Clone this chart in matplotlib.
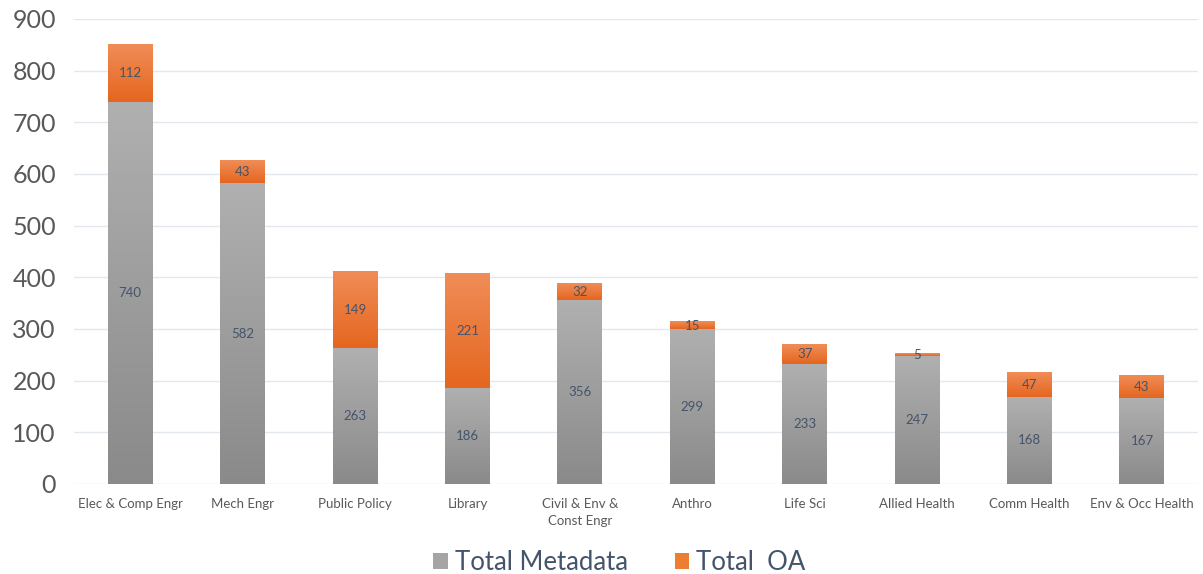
import numpy as np
import matplotlib
matplotlib.use("Agg")
import matplotlib.pyplot as plt
from matplotlib.colors import LinearSegmentedColormap

plt.rcParams['font.family'] = ['Lato', 'DejaVu Sans']

# 数据
categories = ["Elec & Comp Engr", "Mech Engr", "Public Policy", "Library",
              "Civil & Env &\nConst Engr", "Anthro", "Life Sci", "Allied Health",
              "Comm Health", "Env & Occ Health"]
total_metadata = [740, 582, 263, 186, 356, 299, 233, 247, 168, 167]
total_oa = [112, 43, 149, 221, 32, 15, 37, 5, 47, 43]
yticks = [0, 100, 200, 300, 400, 500, 600, 700, 800, 900]

gray_cmap = LinearSegmentedColormap.from_list("g", ["#8a8a8a", "#b0b0b0"])
orange_cmap = LinearSegmentedColormap.from_list("o", ["#e5661f", "#f08d57"])
grad = np.linspace(0, 1, 256).reshape(-1, 1)

fig = plt.figure(figsize=(12.03, 5.74), dpi=100)
ax = fig.add_axes([0.0615, 0.157, 0.9345, 0.81])

x = np.arange(len(categories))
b1 = ax.bar(x, total_metadata, width=0.4, color="#a5a5a5", label="Total Metadata", zorder=2)
b2 = ax.bar(x, total_oa, width=0.4, bottom=total_metadata, color="#ed7d31",
            label="Total  OA", zorder=2)

# 渐变填充
for bars, cmap in ((b1, gray_cmap), (b2, orange_cmap)):
    for p in bars:
        x0, y0 = p.get_x(), p.get_y()
        w, h = p.get_width(), p.get_height()
        ax.imshow(grad, cmap=cmap, origin="lower", aspect="auto",
                  extent=(x0, x0 + w, y0, y0 + h), zorder=3)

# 数值标签
for i in range(len(categories)):
    ax.text(x[i], total_metadata[i] / 2, str(total_metadata[i]), ha="center", va="center",
            fontsize=9.5, color="#44546a", zorder=4)
    ax.text(x[i], total_metadata[i] + total_oa[i] / 2, str(total_oa[i]), ha="center",
            va="center", fontsize=9.5, color="#44546a", zorder=4)

ax.set_xlim(-0.5, len(categories) - 0.5)
ax.set_ylim(0, 900)
ax.set_yticks(yticks)
ax.set_xticks(x)
ax.set_xticklabels(categories, fontsize=9.5, color="#595959", linespacing=1.5)
ax.tick_params(axis="y", labelsize=18, colors="#595959", length=0, pad=13)
ax.tick_params(axis="x", length=0, pad=10)
ax.grid(axis="y", color="#e3e8ee", linewidth=1, zorder=0)
for s in ax.spines.values():
    s.set_visible(False)

leg = fig.legend(handles=[b1, b2], loc="center", bbox_to_anchor=(0.515, 0.02),
                 ncol=2, frameon=False, fontsize=18.5, handlelength=0.55, handleheight=0.55,
                 handletextpad=0.3, columnspacing=1.8, borderaxespad=0)
for t in leg.get_texts():
    t.set_color("#44546a")

fig.savefig("out.png", dpi=100)
